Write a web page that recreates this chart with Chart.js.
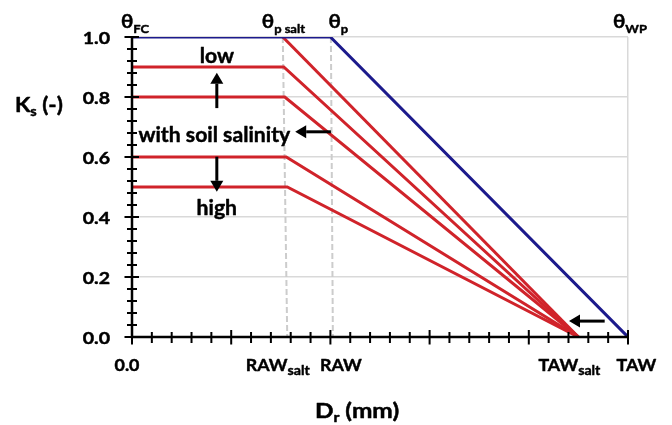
<!DOCTYPE html>
<html><head><meta charset="utf-8">
<script src="https://cdn.jsdelivr.net/npm/chart.js@4/dist/chart.umd.min.js"></script>
<style>html,body{margin:0;padding:0;background:#fff}#wrap{width:672px;height:425px}</style>
</head><body><div id="wrap"><canvas id="c" width="672" height="425"></canvas></div>
<script>
// ---- data ----
const yTickValues = [0, 0.2, 0.4, 0.6, 0.8, 1.0];
const yTickLabels = ['0.0', '0.2', '0.4', '0.6', '0.8', '1.0'];
const xTickValues = [0, 0.31, 0.405, 0.9, 1.0];
const xTickMain = ['0.0', 'RAW', 'RAW', 'TAW', 'TAW'];
const xTickSub = ['', 'salt', '', 'salt', ''];
// no-salinity curve (Dr, Ks)
const potentialX = [0, 0.40, 1.0];
const potentialKs = [1.0, 1.0, 0.0];
// saline curves: plateau Ks, break point Dr, and TAWsalt
const salineKs = [1.0, 0.9, 0.8, 0.6, 0.5];
const salineBreakX = [0.304, 0.306, 0.308, 0.311, 0.313];
const salineStartX = [0.304, 0, 0, 0, 0];
const tawSalt = 0.9;
// vertical dashed markers (top x, bottom x)
const pSaltLine = [[0.304, 1.0], [0.313, 0]];
const pLine = [[0.401, 1.0], [0.405, 0]];
// top labels
const topMain = ['θ', 'θ', 'θ', 'θ'];
const topSub = ['FC', 'p salt', 'p', 'WP'];
const topAt = [0, 0.304, 0.401, 1.0];

// ---- styling / layout ----
const RED = '#d0232a', BLUE = '#1c1a8c', GRID = '#d9d9d9', DASH = '#cccccc';
const FONT = 'Lato, "Open Sans", sans-serif';

const datasets = [];
datasets.push({data: potentialX.map((x, i) => ({x, y: potentialKs[i]})), borderColor: BLUE, borderWidth: 3, order: 0});
salineKs.forEach((k, i) => {
  const pts = [];
  if (salineStartX[i] < salineBreakX[i]) pts.push({x: salineStartX[i], y: k});
  pts.push({x: salineBreakX[i], y: k});
  pts.push({x: tawSalt, y: 0});
  datasets.push({data: pts, borderColor: RED, borderWidth: 3, order: 1});
});
[pSaltLine, pLine].forEach(l => {
  datasets.push({data: l.map(p => ({x: p[0], y: p[1]})), borderColor: DASH, borderWidth: 2, borderDash: [6, 3], order: 2});
});
datasets.forEach(d => { d.showLine = true; d.pointRadius = 0; d.fill = false; d.tension = 0; });

function rich(ctx, parts, x, y, align, sx) {
  // parts: [text, size, dy]; sx: horizontal stretch
  sx = sx || 1;
  let w = 0;
  parts.forEach(p => { ctx.font = 'bold ' + p[1] + 'px ' + FONT; w += ctx.measureText(p[0]).width; });
  w *= sx;
  let cx = align === 'center' ? x - w / 2 : align === 'right' ? x - w : x;
  ctx.textAlign = 'left'; ctx.textBaseline = 'alphabetic';
  ctx.lineWidth = 0.45; ctx.strokeStyle = '#000'; ctx.lineJoin = 'round';
  parts.forEach(p => {
    ctx.font = 'bold ' + p[1] + 'px ' + FONT;
    ctx.save(); ctx.translate(cx, y + (p[2] || 0)); ctx.scale(sx, 1);
    ctx.fillText(p[0], 0, 0); ctx.strokeText(p[0], 0, 0);
    ctx.restore();
    cx += ctx.measureText(p[0]).width * sx;
  });
}
function arrow(ctx, x1, y1, x2, y2) {
  const a = Math.atan2(y2 - y1, x2 - x1), L = 11, W = 6.5;
  ctx.strokeStyle = '#000'; ctx.fillStyle = '#000'; ctx.lineWidth = 3;
  ctx.beginPath(); ctx.moveTo(x1, y1); ctx.lineTo(x2 - L * Math.cos(a), y2 - L * Math.sin(a)); ctx.stroke();
  ctx.beginPath(); ctx.moveTo(x2, y2);
  ctx.lineTo(x2 - L * Math.cos(a) - W * Math.sin(a), y2 - L * Math.sin(a) + W * Math.cos(a));
  ctx.lineTo(x2 - L * Math.cos(a) + W * Math.sin(a), y2 - L * Math.sin(a) - W * Math.cos(a));
  ctx.closePath(); ctx.fill();
}

const deco = {
  id: 'deco',
  afterDraw(chart) {
    const ctx = chart.ctx, xs = chart.scales.x, ys = chart.scales.y;
    const x0 = xs.getPixelForValue(0), y0 = ys.getPixelForValue(0);
    ctx.save();
    // axes
    ctx.strokeStyle = '#000'; ctx.lineWidth = 2.5;
    ctx.beginPath(); ctx.moveTo(x0, ys.getPixelForValue(1)); ctx.lineTo(x0, y0); ctx.lineTo(xs.getPixelForValue(1), y0); ctx.stroke();
    ctx.lineWidth = 2;
    for (let i = 0; i <= 25; i++) {
      const v = i * 0.04, major = i % 5 === 0;
      const px = xs.getPixelForValue(v), py = ys.getPixelForValue(v);
      ctx.beginPath();
      ctx.moveTo(px, y0 - (major ? 7 : 5)); ctx.lineTo(px, y0 + (major ? 7.5 : 6));
      ctx.moveTo(x0 - (major ? 7.5 : 5), py); ctx.lineTo(x0 + (major ? 7 : 5), py);
      ctx.stroke();
    }
    ctx.fillStyle = '#000';
    // y tick labels
    yTickValues.forEach((v, i) => rich(ctx, [[yTickLabels[i], 17]], x0 - 22, ys.getPixelForValue(v) + 6.5, 'right', 1.15));
    // x tick labels
    const xOff = [-5, -8, 8, -9, 8.5];
    xTickValues.forEach((v, i) => {
      const parts = [[xTickMain[i], 17]];
      if (xTickSub[i]) parts.push([xTickSub[i], 13.5, 4.5]);
      rich(ctx, parts, xs.getPixelForValue(v) + xOff[i], y0 + 33.5, 'center', 1.05);
    });
    // top theta labels
    const tOff = [-11, -21, -2.5, -15];
    topAt.forEach((v, i) => rich(ctx, [[topMain[i], 19], [topSub[i], 12, 4.5]], xs.getPixelForValue(v) + tOff[i], 28, 'left', 1.08));
    // axis titles
    rich(ctx, [['K', 20], ['s', 13, 4], [' (-)', 20]], 15, 111.7, 'left', 1.12);
    rich(ctx, [['D', 20], ['r', 13, 4], [' (mm)', 20]], 357, 418.3, 'center', 1.22);
    // annotations
    const P = (x, y) => [xs.getPixelForValue(x), ys.getPixelForValue(y)];
    let p = P(0.171, 0.934); rich(ctx, [['low', 20]], p[0], p[1] + 6.5, 'center', 1.06);
    p = P(0.166, 0.684); rich(ctx, [['with soil salinity', 20]], p[0], p[1] + 10, 'center', 1.06);
    p = P(0.171, 0.426); rich(ctx, [['high', 20]], p[0], p[1] + 6, 'center', 1.06);
    let a = P(0.171, 0.763), b = P(0.171, 0.881); arrow(ctx, a[0], a[1], b[0], b[1]);
    a = P(0.171, 0.601); b = P(0.171, 0.484); arrow(ctx, a[0], a[1], b[0], b[1]);
    a = P(0.401, 0.684); b = P(0.329, 0.684); arrow(ctx, a[0], a[1], b[0], b[1]);
    a = P(0.953, 0.053); b = P(0.881, 0.053); arrow(ctx, a[0], a[1], b[0], b[1]);
    ctx.restore();
  }
};

new Chart(document.getElementById('c'), {
  type: 'scatter',
  data: {datasets},
  options: {
    responsive: false, animation: false, devicePixelRatio: 1,
    layout: {padding: {left: 132, right: 44, top: 37, bottom: 88}},
    plugins: {legend: {display: false}, tooltip: {enabled: false}},
    scales: {
      x: {type: 'linear', min: 0, max: 1,
          ticks: {display: false, stepSize: 0.2},
          border: {display: false},
          grid: {drawTicks: false, lineWidth: 1.5, color: c => c.tick && Math.abs(c.tick.value - 1) < 1e-6 ? GRID : 'rgba(0,0,0,0)'}},
      y: {type: 'linear', min: 0, max: 1,
          ticks: {display: false, stepSize: 0.2},
          border: {display: false},
          grid: {drawTicks: false, lineWidth: 1.5, color: c => c.tick && c.tick.value > 1e-6 ? GRID : 'rgba(0,0,0,0)'}}
    }
  },
  plugins: [deco]
});
</script></body></html>
